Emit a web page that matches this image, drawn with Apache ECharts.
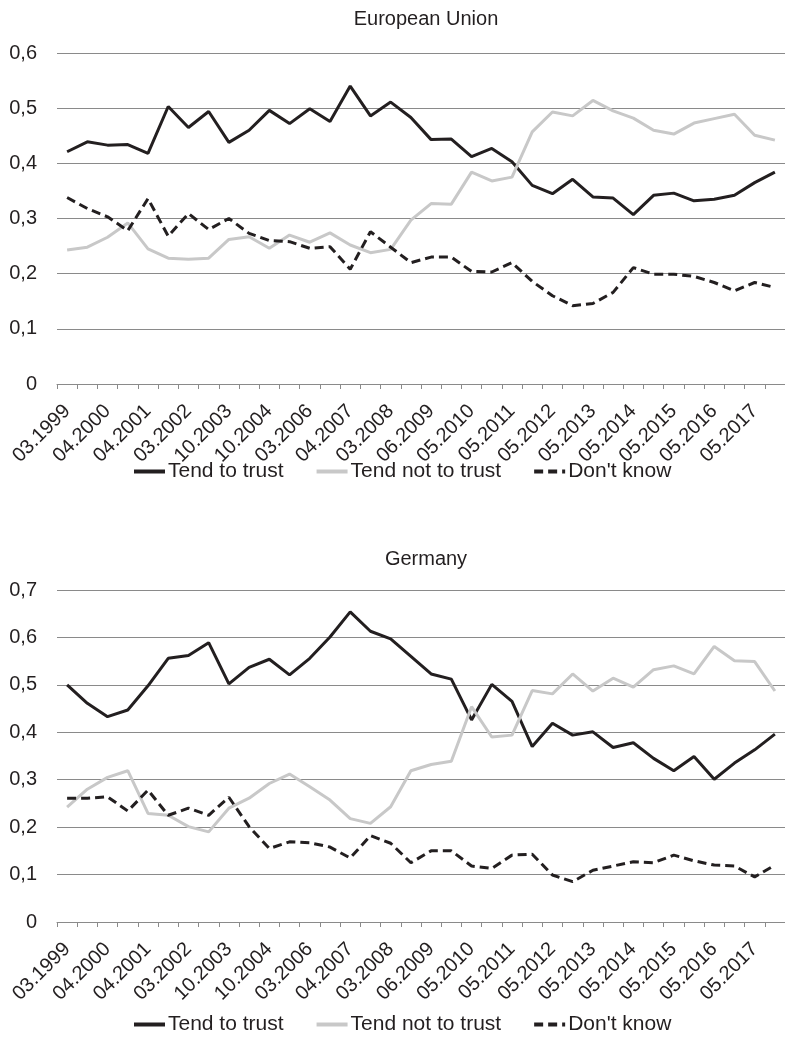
<!DOCTYPE html>
<html>
<head>
<meta charset="utf-8">
<script src="https://cdn.jsdelivr.net/npm/echarts@6/dist/echarts.min.js"></script>
<style>
  html, body { margin: 0; padding: 0; background: #fff; }
  #chart { width: 785px; height: 1042px; }
</style>
</head>
<body>
<div id="chart"></div>
<script>
// survey waves (only every other one is labelled on the axis)
const waves = [
  "03.1999", "10.1999", "04.2000", "10.2000", "04.2001", "10.2001",
  "03.2002", "10.2002", "10.2003", "02.2004", "10.2004", "10.2005",
  "03.2006", "09.2006", "04.2007", "09.2007", "03.2008", "10.2008",
  "06.2009", "10.2009", "05.2010", "11.2010", "05.2011", "11.2011",
  "05.2012", "11.2012", "05.2013", "11.2013", "05.2014", "11.2014",
  "05.2015", "11.2015", "05.2016", "11.2016", "05.2017", "11.2017"
];

// European Union
const euTrust = [
  0.421, 0.439, 0.433, 0.434, 0.418, 0.503, 0.465, 0.494, 0.438, 0.460,
  0.496, 0.472, 0.499, 0.476, 0.540, 0.486, 0.511, 0.483, 0.443, 0.444,
  0.412, 0.427, 0.403, 0.360, 0.345, 0.371, 0.339, 0.337, 0.307, 0.342,
  0.346, 0.332, 0.335, 0.342, 0.365, 0.384
];
const euNotTrust = [
  0.243, 0.248, 0.266, 0.292, 0.245, 0.228, 0.226, 0.228, 0.262, 0.267,
  0.246, 0.270, 0.257, 0.274, 0.252, 0.238, 0.244, 0.297, 0.327, 0.326,
  0.384, 0.368, 0.375, 0.457, 0.493, 0.486, 0.514, 0.495, 0.482, 0.460,
  0.453, 0.473, 0.481, 0.489, 0.451, 0.442
];
const euDontKnow = [
  0.338, 0.318, 0.303, 0.278, 0.336, 0.268, 0.309, 0.280, 0.300, 0.273,
  0.260, 0.258, 0.246, 0.249, 0.208, 0.276, 0.248, 0.220, 0.230, 0.230,
  0.204, 0.203, 0.220, 0.186, 0.160, 0.142, 0.146, 0.166, 0.211, 0.199,
  0.199, 0.195, 0.184, 0.169, 0.184, 0.175
];

// Germany
const deTrust = [
  0.500, 0.461, 0.433, 0.447, 0.498, 0.556, 0.562, 0.589, 0.502, 0.537,
  0.554, 0.521, 0.556, 0.601, 0.654, 0.613, 0.597, 0.560, 0.523, 0.512,
  0.426, 0.501, 0.465, 0.370, 0.419, 0.394, 0.401, 0.368, 0.378, 0.345,
  0.319, 0.349, 0.301, 0.335, 0.363, 0.396
];
const deNotTrust = [
  0.242, 0.280, 0.305, 0.319, 0.229, 0.225, 0.201, 0.190, 0.240, 0.261,
  0.292, 0.312, 0.285, 0.257, 0.218, 0.208, 0.243, 0.319, 0.332, 0.339,
  0.454, 0.390, 0.394, 0.488, 0.481, 0.523, 0.487, 0.514, 0.495, 0.532,
  0.540, 0.523, 0.581, 0.551, 0.549, 0.487
];
const deDontKnow = [
  0.261, 0.261, 0.264, 0.234, 0.278, 0.225, 0.240, 0.225, 0.263, 0.201,
  0.155, 0.169, 0.167, 0.158, 0.135, 0.182, 0.166, 0.125, 0.150, 0.150,
  0.118, 0.113, 0.141, 0.143, 0.099, 0.085, 0.109, 0.118, 0.127, 0.125,
  0.141, 0.129, 0.120, 0.118, 0.095, 0.120
];

const seriesNames = ["Tend to trust", "Tend not to trust", "Don't know"];

const ink = "#231f20";
const grey = "#c8c8c8";
const gridGrey = "#8a8a8a";
const font = "Liberation Sans, Arial, sans-serif";

const myChart = echarts.init(document.getElementById("chart"));

const xAxisFor = (gridIndex) => ({
  type: "category",
  gridIndex,
  data: waves,
  boundaryGap: true,
  axisLine: { lineStyle: { color: gridGrey, width: 1 } },
  axisTick: { show: true, interval: 0, length: 5, inside: false, lineStyle: { color: gridGrey } },
  axisLabel: {
    interval: 1,
    rotate: 45,
    margin: 24,
    color: ink,
    fontSize: 20,
    fontFamily: font,
  },
  splitLine: { show: false },
});

const yAxisFor = (gridIndex, max) => ({
  type: "value",
  gridIndex,
  min: 0,
  max,
  interval: 0.1,
  axisLine: { show: false },
  axisTick: { show: false },
  axisLabel: {
    margin: 20,
    color: ink,
    fontSize: 20,
    fontFamily: font,
    formatter: (v) => (v === 0 ? "0" : v.toFixed(1).replace(".", ",")),
  },
  splitLine: { lineStyle: { color: gridGrey, width: 1 } },
});

const lineFor = (name, data, idx, color, type) => ({
  name,
  type: "line",
  xAxisIndex: idx,
  yAxisIndex: idx,
  data,
  symbol: "none",
  lineStyle: { color, width: 3, type },
  itemStyle: { color },
});

const legendFor = (top) => ({
  data: seriesNames,
  top,
  left: 127,
  itemWidth: 31,
  itemHeight: 14,
  itemGap: 31,
  itemStyle: { opacity: 0 },
  lineStyle: { width: 4 },
  textStyle: { color: ink, fontSize: 21, fontFamily: font, padding: [0, 0, 0, -2] },
});

const options = {
  animation: false,
  backgroundColor: "#fff",
  title: [
    {
      text: "European Union",
      left: 421,
      top: 4,
      textAlign: "center",
      textStyle: { color: ink, fontSize: 20, fontWeight: "normal", fontFamily: font },
    },
    {
      text: "Germany",
      left: 421,
      top: 544,
      textAlign: "center",
      textStyle: { color: ink, fontSize: 20, fontWeight: "normal", fontFamily: font },
    },
  ],
  legend: [legendFor(456), legendFor(1009)],
  grid: [
    { left: 57, right: 0, top: 53, height: 331 },
    { left: 57, right: 0, top: 590, height: 332 },
  ],
  xAxis: [xAxisFor(0), xAxisFor(1)],
  yAxis: [yAxisFor(0, 0.6), yAxisFor(1, 0.7)],
  series: [
    lineFor(seriesNames[0], euTrust, 0, ink, "solid"),
    lineFor(seriesNames[1], euNotTrust, 0, grey, "solid"),
    lineFor(seriesNames[2], euDontKnow, 0, ink, [9, 5]),
    lineFor(seriesNames[0], deTrust, 1, ink, "solid"),
    lineFor(seriesNames[1], deNotTrust, 1, grey, "solid"),
    lineFor(seriesNames[2], deDontKnow, 1, ink, [9, 5]),
  ],
};

myChart.setOption(options);
</script>
</body>
</html>
